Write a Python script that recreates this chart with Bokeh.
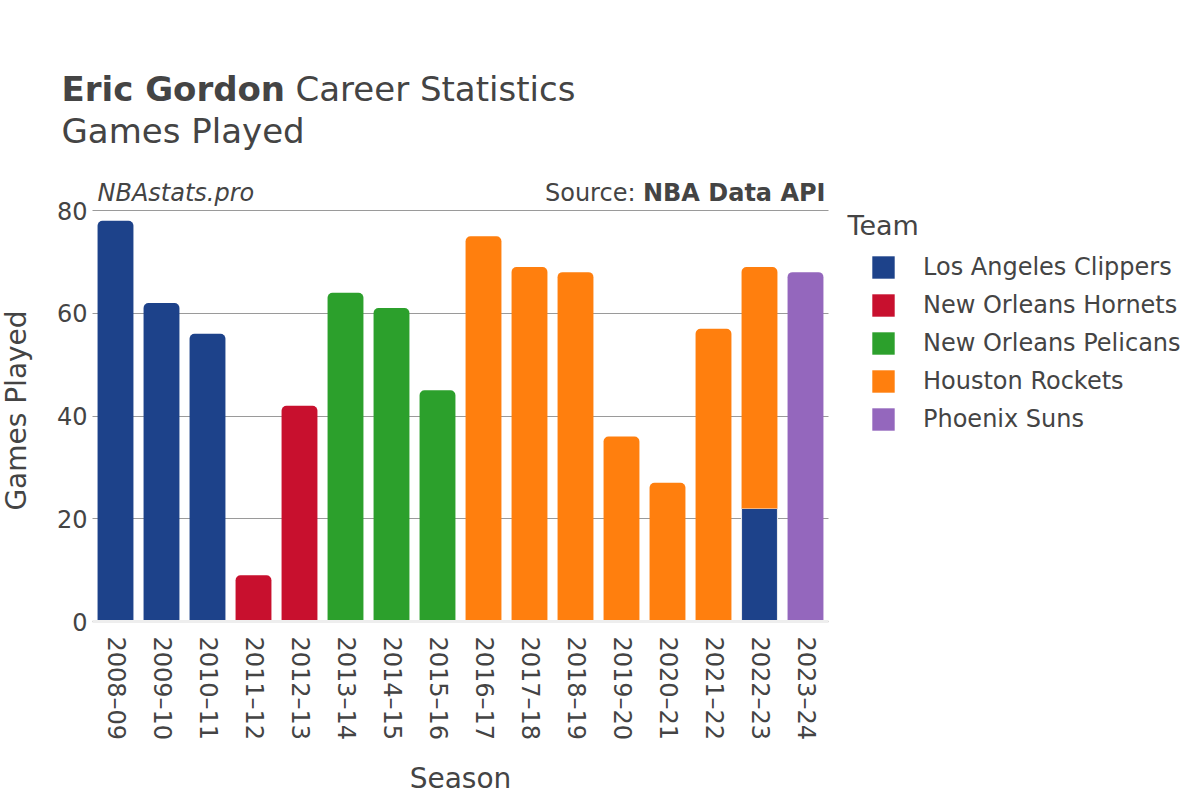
import math
from bokeh.plotting import figure
from bokeh.models import Label, Legend, LegendItem, ColumnDataSource, Range1d, FixedTicker
from bokeh.embed import file_html
from bokeh.resources import INLINE

seasons = ["2008–09", "2009–10", "2010–11", "2011–12", "2012–13", "2013–14",
           "2014–15", "2015–16", "2016–17", "2017–18", "2018–19", "2019–20",
           "2020–21", "2021–22", "2022–23", "2023–24"]
teams = ["Los Angeles Clippers", "New Orleans Hornets", "New Orleans Pelicans",
         "Houston Rockets", "Phoenix Suns"]
colors = ["#1d428a", "#c8102e", "#2ca02c", "#ff7f0e", "#9467bd"]

clippers = [78, 62, 56, 0, 0, 0, 0, 0, 0, 0, 0, 0, 0, 0, 22, 0]
hornets = [0, 0, 0, 9, 42, 0, 0, 0, 0, 0, 0, 0, 0, 0, 0, 0]
pelicans = [0, 0, 0, 0, 0, 64, 61, 45, 0, 0, 0, 0, 0, 0, 0, 0]
rockets = [0, 0, 0, 0, 0, 0, 0, 0, 75, 69, 68, 36, 27, 57, 47, 0]
suns = [0, 0, 0, 0, 0, 0, 0, 0, 0, 0, 0, 0, 0, 0, 0, 68]
series = [clippers, hornets, pelicans, rockets, suns]
y_ticks = [0, 20, 40, 60, 80]

FONT = "DejaVu Sans"
TXT = "#444444"
W, H = 1200, 800
# plotting area in canvas pixels
PL, PR, PT, PB = 92, 828, 210, 621
n = len(seasons)
ymax = 80
xpx = (PR - PL) / n
ypx = (PB - PT) / ymax
x_rng = Range1d(-0.5 - PL / xpx, n - 0.5 + (W - PR) / xpx)
y_rng = Range1d(-(H - PB) / ypx, ymax + PT / ypx)

p = figure(x_range=x_rng, y_range=y_rng, width=W, height=H,
           output_backend="svg", toolbar_location=None, min_border=0)
p.outline_line_color = None
p.background_fill_color = "white"

# stacking
last_team = []
for i in range(n):
    lt = None
    for t, s in enumerate(series):
        if s[i] > 0:
            lt = t
    last_team.append(lt)

legend_items = []
for t, (name, vals, col) in enumerate(zip(teams, series, colors)):
    top_d = dict(x=[], bottom=[], top=[])
    mid_d = dict(x=[], bottom=[], top=[])
    for i in range(n):
        v = vals[i]
        if v <= 0:
            continue
        base = sum(series[k][i] for k in range(t))
        d = top_d if last_team[i] == t else mid_d
        d["x"].append(i)
        d["bottom"].append(base)
        d["top"].append(base + v)
    r_top = p.vbar(x="x", bottom="bottom", top="top", width=0.78,
                   source=ColumnDataSource(top_d), fill_color=col,
                   line_color=None, border_radius=(5, 5, 0, 0))
    if mid_d["x"]:
        p.vbar(x="x", bottom="bottom", top="top", width=0.78,
               source=ColumnDataSource(mid_d), fill_color=col,
               line_color="#eeeeee", line_width=1)
    legend_items.append(LegendItem(label=name, renderers=[r_top]))

# axes (fixed inside the canvas-wide frame)
ya = p.yaxis[0]
ya.fixed_location = -0.5
ya.bounds = (0, ymax)
ya.ticker = FixedTicker(ticks=y_ticks)
ya.major_tick_line_color = None
ya.major_tick_out = 0
ya.major_tick_in = 0
ya.minor_tick_line_color = None
ya.axis_line_color = None
ya.major_label_standoff = 5
ya.major_label_text_font = FONT
ya.major_label_text_font_size = "24px"
ya.major_label_text_color = TXT

xa = p.xaxis[0]
xa.fixed_location = 0
xa.bounds = (-0.5, n - 0.5)
xa.ticker = FixedTicker(ticks=list(range(n)))
xa.major_label_overrides = {i: s for i, s in enumerate(seasons)}
xa.major_tick_line_color = None
xa.major_tick_out = 0
xa.major_tick_in = 0
xa.minor_tick_line_color = None
xa.axis_line_color = "#eeeeee"
xa.axis_line_width = 3
xa.major_label_orientation = -math.pi / 2
xa.major_label_standoff = 15
xa.major_label_text_font = FONT
xa.major_label_text_font_size = "24px"
xa.major_label_text_color = TXT

p.xgrid.grid_line_color = None
yg = p.ygrid[0]
yg.grid_line_color = "#9a9a9a"
yg.grid_line_width = 1
yg.bounds = (0, ymax)
if "cross_bounds" in yg.properties():
    yg.cross_bounds = (-0.5, n - 0.5)

legend = Legend(items=legend_items, location=(869, H - 433),
                glyph_width=28, glyph_height=28, label_height=22,
                spacing=10, label_standoff=26, padding=10, margin=0,
                label_text_font=FONT, label_text_font_size="24px",
                label_text_color=TXT, border_line_color=None,
                background_fill_alpha=0)
p.add_layout(legend, "center")


def lab(x, y, text, size, style="normal", align="left", baseline="alphabetic", angle=0):
    # x, y given in canvas pixels from the top-left
    p.add_layout(Label(x=x, y=H - y, x_units="screen", y_units="screen", text=text,
                       text_font=FONT, text_font_size=size, text_font_style=style,
                       text_color=TXT, text_align=align, text_baseline=baseline,
                       angle=angle))


lab(61, 88, "Eric Gordon", "34px", "bold")
lab(295, 88, "Career Statistics", "34px")
lab(61, 130, "Games Played", "34px")
lab(97, 192, "NBAstats.pro", "24px", "italic")
lab(825, 192, "NBA Data API", "24px", "bold", align="right")
lab(635, 192, "Source:", "24px", align="right")
lab(847, 225, "Team", "27px")
lab(16, 410, "Games Played", "28px", align="center", angle=math.pi / 2)
lab(460, 778, "Season", "28px", align="center")

open("out.html", "w").write(file_html(p, INLINE))
